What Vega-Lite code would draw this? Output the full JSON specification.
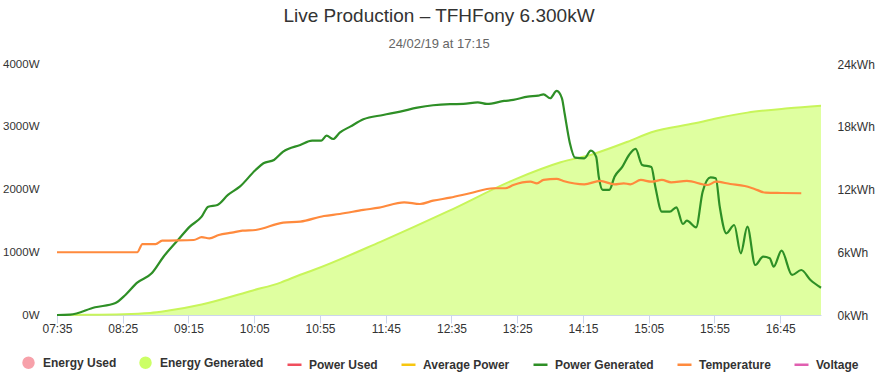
{
  "$schema": "https://vega.github.io/schema/vega-lite/v6.json",
  "width": 764,
  "height": 251,
  "autosize": {"type": "none"},
  "padding": {"left": 57, "top": 64, "right": 55, "bottom": 60},
  "background": "white",
  "title": {
    "text": "Live Production – TFHFony 6.300kW",
    "subtitle": "24/02/19 at 17:15",
    "anchor": "middle",
    "font": "Liberation Sans",
    "fontSize": 19,
    "fontWeight": "normal",
    "color": "#333333",
    "subtitleFont": "Liberation Sans",
    "subtitleFontSize": 13,
    "subtitleColor": "#666666",
    "subtitlePadding": 12,
    "offset": 7
  },
  "config": {"view": {"stroke": null}, "font": "Liberation Sans"},
  "datasets": {
    "energy": [
      {"t": "07:35", "series": "Energy Generated", "value": 0},
      {"t": "08:00", "series": "Energy Generated", "value": 0.02},
      {"t": "08:46", "series": "Energy Generated", "value": 0.2},
      {"t": "09:00", "series": "Energy Generated", "value": 0.42},
      {"t": "09:25", "series": "Energy Generated", "value": 1.0},
      {"t": "10:04", "series": "Energy Generated", "value": 2.35},
      {"t": "10:25", "series": "Energy Generated", "value": 3.1},
      {"t": "10:40", "series": "Energy Generated", "value": 3.85},
      {"t": "10:50", "series": "Energy Generated", "value": 4.3},
      {"t": "11:41", "series": "Energy Generated", "value": 7.0},
      {"t": "12:33", "series": "Energy Generated", "value": 9.95},
      {"t": "13:22", "series": "Energy Generated", "value": 12.9},
      {"t": "13:58", "series": "Energy Generated", "value": 14.6},
      {"t": "14:23", "series": "Energy Generated", "value": 15.4},
      {"t": "14:49", "series": "Energy Generated", "value": 16.57},
      {"t": "15:07", "series": "Energy Generated", "value": 17.47},
      {"t": "15:40", "series": "Energy Generated", "value": 18.33},
      {"t": "15:57", "series": "Energy Generated", "value": 18.81},
      {"t": "16:20", "series": "Energy Generated", "value": 19.35},
      {"t": "16:51", "series": "Energy Generated", "value": 19.76},
      {"t": "17:16", "series": "Energy Generated", "value": 20.0}
    ],
    "lines": [
      {"t": "07:35", "series": "Power Generated", "value": 0},
      {"t": "07:45", "series": "Power Generated", "value": 5},
      {"t": "08:04", "series": "Power Generated", "value": 123},
      {"t": "08:19", "series": "Power Generated", "value": 186},
      {"t": "08:27", "series": "Power Generated", "value": 319},
      {"t": "08:36", "series": "Power Generated", "value": 515},
      {"t": "08:47", "series": "Power Generated", "value": 665},
      {"t": "08:56", "series": "Power Generated", "value": 929},
      {"t": "09:07", "series": "Power Generated", "value": 1195},
      {"t": "09:16", "series": "Power Generated", "value": 1408},
      {"t": "09:25", "series": "Power Generated", "value": 1567},
      {"t": "09:30", "series": "Power Generated", "value": 1726},
      {"t": "09:37", "series": "Power Generated", "value": 1753},
      {"t": "09:45", "series": "Power Generated", "value": 1913},
      {"t": "09:54", "series": "Power Generated", "value": 2045},
      {"t": "10:06", "series": "Power Generated", "value": 2311},
      {"t": "10:12", "series": "Power Generated", "value": 2418},
      {"t": "10:20", "series": "Power Generated", "value": 2471},
      {"t": "10:27", "series": "Power Generated", "value": 2603},
      {"t": "10:40", "series": "Power Generated", "value": 2710},
      {"t": "10:49", "series": "Power Generated", "value": 2778},
      {"t": "10:56", "series": "Power Generated", "value": 2778},
      {"t": "11:00", "series": "Power Generated", "value": 2858},
      {"t": "11:05", "series": "Power Generated", "value": 2805},
      {"t": "11:10", "series": "Power Generated", "value": 2906},
      {"t": "11:18", "series": "Power Generated", "value": 3002},
      {"t": "11:28", "series": "Power Generated", "value": 3119},
      {"t": "11:43", "series": "Power Generated", "value": 3188},
      {"t": "11:56", "series": "Power Generated", "value": 3241},
      {"t": "12:09", "series": "Power Generated", "value": 3304},
      {"t": "12:21", "series": "Power Generated", "value": 3343},
      {"t": "12:34", "series": "Power Generated", "value": 3360},
      {"t": "12:44", "series": "Power Generated", "value": 3363},
      {"t": "12:55", "series": "Power Generated", "value": 3390},
      {"t": "13:02", "series": "Power Generated", "value": 3363},
      {"t": "13:15", "series": "Power Generated", "value": 3411},
      {"t": "13:22", "series": "Power Generated", "value": 3427},
      {"t": "13:33", "series": "Power Generated", "value": 3480},
      {"t": "13:41", "series": "Power Generated", "value": 3495},
      {"t": "13:45", "series": "Power Generated", "value": 3517},
      {"t": "13:50", "series": "Power Generated", "value": 3454},
      {"t": "13:55", "series": "Power Generated", "value": 3571},
      {"t": "13:59", "series": "Power Generated", "value": 3454},
      {"t": "14:01", "series": "Power Generated", "value": 3215},
      {"t": "14:05", "series": "Power Generated", "value": 2742},
      {"t": "14:09", "series": "Power Generated", "value": 2507},
      {"t": "14:16", "series": "Power Generated", "value": 2497},
      {"t": "14:21", "series": "Power Generated", "value": 2618},
      {"t": "14:25", "series": "Power Generated", "value": 2523},
      {"t": "14:27", "series": "Power Generated", "value": 2204},
      {"t": "14:30", "series": "Power Generated", "value": 1993},
      {"t": "14:35", "series": "Power Generated", "value": 1993},
      {"t": "14:39", "series": "Power Generated", "value": 2204},
      {"t": "14:45", "series": "Power Generated", "value": 2364},
      {"t": "14:50", "series": "Power Generated", "value": 2550},
      {"t": "14:55", "series": "Power Generated", "value": 2646},
      {"t": "15:00", "series": "Power Generated", "value": 2391},
      {"t": "15:07", "series": "Power Generated", "value": 2359},
      {"t": "15:10", "series": "Power Generated", "value": 2045},
      {"t": "15:15", "series": "Power Generated", "value": 1646},
      {"t": "15:21", "series": "Power Generated", "value": 1646},
      {"t": "15:26", "series": "Power Generated", "value": 1716},
      {"t": "15:31", "series": "Power Generated", "value": 1450},
      {"t": "15:34", "series": "Power Generated", "value": 1503},
      {"t": "15:41", "series": "Power Generated", "value": 1398},
      {"t": "15:46", "series": "Power Generated", "value": 1965},
      {"t": "15:52", "series": "Power Generated", "value": 2194},
      {"t": "15:56", "series": "Power Generated", "value": 2178},
      {"t": "15:59", "series": "Power Generated", "value": 1726},
      {"t": "16:04", "series": "Power Generated", "value": 1302},
      {"t": "16:10", "series": "Power Generated", "value": 1434},
      {"t": "16:15", "series": "Power Generated", "value": 983},
      {"t": "16:20", "series": "Power Generated", "value": 1407},
      {"t": "16:26", "series": "Power Generated", "value": 797},
      {"t": "16:32", "series": "Power Generated", "value": 929},
      {"t": "16:37", "series": "Power Generated", "value": 904},
      {"t": "16:40", "series": "Power Generated", "value": 770},
      {"t": "16:46", "series": "Power Generated", "value": 1025},
      {"t": "16:54", "series": "Power Generated", "value": 638},
      {"t": "17:01", "series": "Power Generated", "value": 717},
      {"t": "17:08", "series": "Power Generated", "value": 558},
      {"t": "17:16", "series": "Power Generated", "value": 435},
      {"t": "07:35", "series": "Temperature", "value": 1000},
      {"t": "08:36", "series": "Temperature", "value": 1000},
      {"t": "08:40", "series": "Temperature", "value": 1130},
      {"t": "08:50", "series": "Temperature", "value": 1130},
      {"t": "08:55", "series": "Temperature", "value": 1185},
      {"t": "09:19", "series": "Temperature", "value": 1195},
      {"t": "09:25", "series": "Temperature", "value": 1240},
      {"t": "09:31", "series": "Temperature", "value": 1222},
      {"t": "09:38", "series": "Temperature", "value": 1275},
      {"t": "09:48", "series": "Temperature", "value": 1312},
      {"t": "09:56", "series": "Temperature", "value": 1344},
      {"t": "10:06", "series": "Temperature", "value": 1355},
      {"t": "10:27", "series": "Temperature", "value": 1471},
      {"t": "10:40", "series": "Temperature", "value": 1487},
      {"t": "10:58", "series": "Temperature", "value": 1578},
      {"t": "11:10", "series": "Temperature", "value": 1610},
      {"t": "11:28", "series": "Temperature", "value": 1674},
      {"t": "11:40", "series": "Temperature", "value": 1711},
      {"t": "11:59", "series": "Temperature", "value": 1796},
      {"t": "12:11", "series": "Temperature", "value": 1769},
      {"t": "12:21", "series": "Temperature", "value": 1822},
      {"t": "12:34", "series": "Temperature", "value": 1870},
      {"t": "12:49", "series": "Temperature", "value": 1940},
      {"t": "13:07", "series": "Temperature", "value": 2020},
      {"t": "13:16", "series": "Temperature", "value": 2020},
      {"t": "13:22", "series": "Temperature", "value": 2072},
      {"t": "13:35", "series": "Temperature", "value": 2125},
      {"t": "13:40", "series": "Temperature", "value": 2099},
      {"t": "13:45", "series": "Temperature", "value": 2152},
      {"t": "13:55", "series": "Temperature", "value": 2168},
      {"t": "14:00", "series": "Temperature", "value": 2136},
      {"t": "14:16", "series": "Temperature", "value": 2083},
      {"t": "14:28", "series": "Temperature", "value": 2136},
      {"t": "14:39", "series": "Temperature", "value": 2083},
      {"t": "14:46", "series": "Temperature", "value": 2099},
      {"t": "14:51", "series": "Temperature", "value": 2083},
      {"t": "14:59", "series": "Temperature", "value": 2152},
      {"t": "15:07", "series": "Temperature", "value": 2125},
      {"t": "15:15", "series": "Temperature", "value": 2152},
      {"t": "15:22", "series": "Temperature", "value": 2115},
      {"t": "15:34", "series": "Temperature", "value": 2136},
      {"t": "15:50", "series": "Temperature", "value": 2072},
      {"t": "15:56", "series": "Temperature", "value": 2125},
      {"t": "16:07", "series": "Temperature", "value": 2088},
      {"t": "16:18", "series": "Temperature", "value": 2056},
      {"t": "16:25", "series": "Temperature", "value": 2013},
      {"t": "16:34", "series": "Temperature", "value": 1949},
      {"t": "16:46", "series": "Temperature", "value": 1944},
      {"t": "17:01", "series": "Temperature", "value": 1940}
    ]
  },
  "layer": [
    {
      "data": {"name": "energy", "format": {"parse": {"t": "date:'%H:%M'"}}},
      "mark": {"type": "area", "interpolate": "monotone", "fillOpacity": 0.62, "line": {"stroke": "#c8f55a", "strokeWidth": 2}},
      "encoding": {
        "x": {
          "field": "t", "type": "temporal",
          "scale": {"domain": [
            {"year": 1900, "month": 1, "date": 1, "hours": 7, "minutes": 35},
            {"year": 1900, "month": 1, "date": 1, "hours": 17, "minutes": 16}
          ]},
          "axis": {
            "title": null, "grid": false, "format": "%H:%M",
            "values": [
              {"year": 1900, "month": 1, "date": 1, "hours": 7, "minutes": 35},
              {"year": 1900, "month": 1, "date": 1, "hours": 8, "minutes": 25},
              {"year": 1900, "month": 1, "date": 1, "hours": 9, "minutes": 15},
              {"year": 1900, "month": 1, "date": 1, "hours": 10, "minutes": 5},
              {"year": 1900, "month": 1, "date": 1, "hours": 10, "minutes": 55},
              {"year": 1900, "month": 1, "date": 1, "hours": 11, "minutes": 45},
              {"year": 1900, "month": 1, "date": 1, "hours": 12, "minutes": 35},
              {"year": 1900, "month": 1, "date": 1, "hours": 13, "minutes": 25},
              {"year": 1900, "month": 1, "date": 1, "hours": 14, "minutes": 15},
              {"year": 1900, "month": 1, "date": 1, "hours": 15, "minutes": 5},
              {"year": 1900, "month": 1, "date": 1, "hours": 15, "minutes": 55},
              {"year": 1900, "month": 1, "date": 1, "hours": 16, "minutes": 45}
            ],
            "domainColor": "#ccd6eb", "tickColor": "#ccd6eb", "tickSize": 8,
            "labelFont": "Liberation Sans", "labelFontSize": 12, "labelColor": "#333333", "labelPadding": 0,
            "labelFlush": false, "labelOverlap": false
          }
        },
        "y": {
          "field": "value", "type": "quantitative",
          "scale": {"domain": [0, 24]},
          "axis": {
            "orient": "right", "title": null, "grid": false, "domain": false, "ticks": false,
            "values": [0, 6, 12, 18, 24], "labelExpr": "datum.value + 'kWh'",
            "labelFont": "Liberation Sans", "labelFontSize": 12, "labelColor": "#333333", "labelPadding": 16
          }
        },
        "color": {
          "field": "series", "type": "nominal",
          "scale": {
            "domain": ["Energy Used", "Energy Generated", "Power Used", "Average Power", "Power Generated", "Temperature", "Voltage"],
            "range": ["#f7a1aa", "#ccff66", "#f04e5d", "#f7c610", "#2e8f26", "#ff8a3d", "#e05fb0"]
          },
          "legend": {
            "orient": "none", "legendX": -35, "legendY": 292, "direction": "horizontal", "columns": 7,
            "title": null, "padding": 0, "symbolType": "circle", "symbolSize": 100, "symbolStrokeWidth": 2.5,
            "labelFont": "Liberation Sans", "labelFontSize": 12, "labelFontWeight": "bold", "labelColor": "#333333",
            "labelOffset": 8, "columnPadding": 18,
            "encode": {
              "symbols": {
                "update": {
                  "shape": {"signal": "indexof(['Energy Used','Energy Generated'], datum.value) >= 0 ? 'circle' : 'M-1.4,0L1.4,0'"},
                  "size": {"value": 100},
                  "fill": {"signal": "indexof(['Energy Used','Energy Generated'], datum.value) >= 0 ? scale('color', datum.value) : 'transparent'"},
                  "stroke": {"signal": "indexof(['Energy Used','Energy Generated'], datum.value) >= 0 ? 'transparent' : scale('color', datum.value)"},
                  "strokeWidth": {"value": 2.5},
                  "opacity": {"value": 1},
                  "fillOpacity": {"value": 1},
                  "strokeOpacity": {"value": 1}
                }
              }
            }
          }
        }
      }
    },
    {
      "data": {"name": "lines", "format": {"parse": {"t": "date:'%H:%M'"}}},
      "mark": {"type": "line", "interpolate": "monotone", "strokeWidth": 2.2},
      "encoding": {
        "x": {"field": "t", "type": "temporal"},
        "y": {
          "field": "value", "type": "quantitative",
          "scale": {"domain": [0, 4000]},
          "axis": {
            "orient": "left", "title": null, "domain": false, "ticks": false,
            "values": [0, 1000, 2000, 3000, 4000], "labelExpr": "datum.value + 'W'",
            "gridColor": "#e6e6e6", "gridWidth": 1,
            "labelFont": "Liberation Sans", "labelFontSize": 11.5, "labelColor": "#333333", "labelPadding": 18
          }
        },
        "color": {"field": "series", "type": "nominal"}
      }
    }
  ],
  "resolve": {"scale": {"y": "independent"}}
}
